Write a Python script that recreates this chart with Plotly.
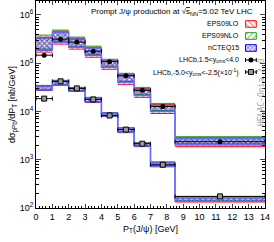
import plotly.graph_objects as go

# ---------------- data ----------------
edges = [0, 1, 2, 3, 4, 5, 6, 7, 8.5, 14]
centers = [0.5, 1.5, 2.5, 3.5, 4.5, 5.5, 6.5, 7.75, 11.25]

# forward rapidity 1.5<y<4.0  (nb/GeV)
fwd_lo_hi = [3.48e5, 4.64e5, 3.32e5, 2.15e5, 1.15e5, 5.90e4, 3.01e4, 1.40e4, 2.87e3]
fwd_lo_lo = [1.70e5, 2.49e5, 1.96e5, 1.33e5, 7.50e4, 3.65e4, 1.96e4, 9.09e3, 1.87e3]
fwd_nlo_hi = [3.83e5, 4.87e5, 3.48e5, 2.26e5, 1.21e5, 6.19e4, 3.16e4, 1.47e4, 3.01e3]
fwd_nlo_lo = [1.96e5, 2.87e5, 2.26e5, 1.54e5, 8.66e4, 4.22e4, 2.26e4, 1.05e4, 2.15e3]
fwd_nc_hi = [3.32e5, 4.43e5, 3.16e5, 2.05e5, 1.10e5, 5.62e4, 2.87e4, 1.33e4, 2.74e3]
fwd_nc_lo = [1.87e5, 2.74e5, 2.15e5, 1.47e5, 8.25e4, 4.02e4, 2.15e4, 1.00e4, 2.05e3]
lhcb_fwd = [1.47e5, 3.16e5, 2.74e5, 1.78e5, 1.08e5, 5.50e4, 2.74e4, 1.27e4, 2.37e3]
lhcb_fwd_err = [8e3, 1.6e4, 1.4e4, 9e3, 5e3, 2.8e3, 1.4e3, 7e2, 1.3e2]

# backward rapidity -5.0<y<-2.5 (x 1/10)
bwd_lo_hi = [3.40e4, 4.30e4, 3.08e4, 1.90e4, 9.30e3, 4.50e3, 2.20e3, 8.80e2, 1.65e2]
bwd_lo_lo = [2.74e4, 3.48e4, 2.61e4, 1.54e4, 7.87e3, 3.65e3, 1.87e3, 7.14e2, 1.33e2]
bwd_nlo_hi = [3.48e4, 4.43e4, 3.16e4, 1.96e4, 9.53e3, 4.64e3, 2.26e3, 9.09e2, 1.70e2]
bwd_nlo_lo = [2.87e4, 3.65e4, 2.74e4, 1.62e4, 8.10e3, 3.85e3, 1.96e3, 7.50e2, 1.40e2]
bwd_nc_hi = [3.36e4, 4.25e4, 3.05e4, 1.88e4, 9.20e3, 4.45e3, 2.18e3, 8.70e2, 1.63e2]
bwd_nc_lo = [2.80e4, 3.55e4, 2.68e4, 1.58e4, 8.00e3, 3.75e3, 1.92e3, 7.30e2, 1.37e2]
lhcb_bwd = [1.85e4, 4.22e4, 3.01e4, 1.78e4, 8.25e3, 4.22e3, 2.15e3, 7.87e2, 1.74e2]
lhcb_bwd_err = [1.0e3, 2.2e3, 1.5e3, 9e2, 4.5e2, 2.2e2, 1.2e2, 4.5e1, 1.0e1]

xticks = list(range(0, 15))
yticks = [1e2, 1e3, 1e4, 1e5, 1e6]
yticktext = ["10<sup>2</sup>", "10<sup>3</sup>", "10<sup>4</sup>", "10<sup>5</sup>", "10<sup>6</sup>"]

RED = "#ff1010"
GREEN = "#22a022"
BLUE = "#0000ff"
LBLUE = "#6a6aff"

styles = {
    "EPS09LO": dict(color=RED, shape="\\", size=4, solidity=0.35),
    "EPS09NLO": dict(color=GREEN, shape="/", size=4, solidity=0.35),
    "nCTEQ15": dict(color=BLUE, shape="x", size=3, solidity=0.55),
}

fig = go.Figure()


def band(hi, lo, name):
    st = styles[name]
    xs, ys = [], []
    for i in range(len(hi)):
        xs += [edges[i], edges[i + 1]]
        ys += [hi[i], hi[i]]
    for i in reversed(range(len(lo))):
        xs += [edges[i + 1], edges[i]]
        ys += [lo[i], lo[i]]
    fig.add_trace(go.Scatter(
        x=xs, y=ys, fill="toself", mode="lines", line=dict(width=0),
        fillcolor="rgba(0,0,0,0)",
        fillpattern=dict(shape=st["shape"], fgcolor=st["color"], bgcolor="rgba(0,0,0,0)",
                         size=st["size"], solidity=st["solidity"], fillmode="overlay"),
        showlegend=False, hoverinfo="skip"))
    sx, sy = [], []
    for arr in (hi, lo):
        for i in range(len(arr)):
            sx += [edges[i], edges[i + 1], None]
            sy += [arr[i], arr[i], None]
    fig.add_trace(go.Scatter(x=sx, y=sy, mode="lines", line=dict(color=st["color"], width=1),
                             showlegend=False, hoverinfo="skip"))
    if name == "nCTEQ15":
        for arr in (hi, lo):
            fig.add_trace(go.Scatter(x=edges, y=list(arr) + [arr[-1]], mode="lines",
                                     line=dict(color=LBLUE, width=1.4, shape="hv"),
                                     showlegend=False, hoverinfo="skip"))


for hi, lo, nm in [(fwd_lo_hi, fwd_lo_lo, "EPS09LO"), (fwd_nlo_hi, fwd_nlo_lo, "EPS09NLO"),
                   (fwd_nc_hi, fwd_nc_lo, "nCTEQ15"),
                   (bwd_lo_hi, bwd_lo_lo, "EPS09LO"), (bwd_nlo_hi, bwd_nlo_lo, "EPS09NLO"),
                   (bwd_nc_hi, bwd_nc_lo, "nCTEQ15")]:
    band(hi, lo, nm)

halfw = [(edges[i + 1] - edges[i]) / 2 for i in range(len(centers))]

fig.add_trace(go.Scatter(
    x=centers, y=lhcb_fwd, mode="markers",
    marker=dict(symbol="circle", size=5, color="black"),
    error_x=dict(type="data", array=halfw, color="black", thickness=1, width=2),
    error_y=dict(type="data", array=lhcb_fwd_err, color="black", thickness=1, width=0),
    showlegend=False))
fig.add_trace(go.Scatter(
    x=centers, y=lhcb_bwd, mode="markers",
    marker=dict(symbol="square", size=5, color="#9a9a9a", line=dict(color="black", width=1)),
    error_x=dict(type="data", array=halfw, color="black", thickness=1, width=2),
    error_y=dict(type="data", array=lhcb_bwd_err, color="black", thickness=1, width=0),
    showlegend=False))

# ---------------- custom legend (overlay axis in fractional coords) ----------------
leg_names = ["EPS09LO", "EPS09NLO", "nCTEQ15"]
leg_rows = [0.889, 0.831, 0.773, 0.715, 0.657]
leg_texts = ["EPS09LO", "EPS09NLO", "nCTEQ15",
             "LHCb,1.5&lt;y<sub>cms</sub>&lt;4.0",
             "LHCb,-5.0&lt;y<sub>cms</sub>&lt;-2.5(×10<sup>-1</sup>)"]
sx0, sx1, sh = 0.915, 0.962, 0.016
for nm, yr in zip(leg_names, leg_rows[:3]):
    st = styles[nm]
    fig.add_trace(go.Scatter(
        x=[sx0, sx1, sx1, sx0, sx0], y=[yr - sh, yr - sh, yr + sh, yr + sh, yr - sh],
        xaxis="x2", yaxis="y2", fill="toself", mode="lines",
        line=dict(color=st["color"], width=1), fillcolor="rgba(0,0,0,0)",
        fillpattern=dict(shape=st["shape"], fgcolor=st["color"], bgcolor="rgba(0,0,0,0)",
                         size=st["size"], solidity=st["solidity"], fillmode="overlay"),
        showlegend=False, hoverinfo="skip"))
xm = (sx0 + sx1) / 2
fig.add_trace(go.Scatter(
    x=[xm], y=[leg_rows[3]], xaxis="x2", yaxis="y2", mode="markers",
    marker=dict(symbol="circle", size=5, color="black"),
    error_x=dict(type="data", array=[(sx1 - sx0) / 2], color="black", thickness=1, width=2),
    showlegend=False, hoverinfo="skip"))
fig.add_trace(go.Scatter(
    x=[xm], y=[leg_rows[4]], xaxis="x2", yaxis="y2", mode="markers",
    marker=dict(symbol="square", size=5, color="#9a9a9a", line=dict(color="black", width=1)),
    error_x=dict(type="data", array=[(sx1 - sx0) / 2], color="black", thickness=1, width=2),
    showlegend=False, hoverinfo="skip"))

annotations = []
for t, yr in zip(leg_texts, leg_rows):
    annotations.append(dict(text=t, xref="paper", yref="paper", x=0.895, y=yr,
                            xanchor="right", yanchor="middle", showarrow=False,
                            font=dict(size=7, color="black")))
annotations.append(dict(text="Prompt J/ψ production at √<span style='text-decoration:overline'>s</span><sub>NN</sub>=5.02 TeV LHC",
                        xref="paper", yref="paper", x=0.594, y=0.945,
                        xanchor="center", yanchor="middle", showarrow=False,
                        font=dict(size=8, color="black")))
annotations.append(dict(text="HELAC-Onia 2.0", xref="paper", yref="paper", x=0.982, y=0.56,
                        xanchor="center", yanchor="middle", textangle=-90, showarrow=False,
                        font=dict(size=8, color="#a0a0a0", family="DejaVu Sans Mono")))

minor_y = [k * 10 ** e for e in range(2, 7) for k in range(2, 10)]

fig.update_layout(
    width=274, height=242, autosize=False,
    margin=dict(l=36, r=9, t=1, b=34, autoexpand=False),
    paper_bgcolor="white", plot_bgcolor="white",
    font=dict(family="Liberation Sans, Arial, sans-serif", size=9, color="black"),
    showlegend=False, hovermode=False,
    annotations=annotations,
    xaxis=dict(range=[0, 14], tickvals=xticks, ticks="inside", ticklen=4, tickwidth=1,
               showline=True, linecolor="black", linewidth=1, mirror="ticks", showgrid=False,
               zeroline=False, tickfont=dict(size=9), automargin=False,
               minor=dict(dtick=0.2, ticks="inside", ticklen=2, tickcolor="black", showgrid=False),
               title=dict(text="P<sub>T</sub>(J/ψ) [GeV]", font=dict(size=9), standoff=4)),
    yaxis=dict(type="log", range=[2, 6.29], tickvals=yticks, ticktext=yticktext,
               ticks="inside", ticklen=5, tickwidth=1, automargin=False,
               showline=True, linecolor="black", linewidth=1, mirror="ticks", showgrid=False,
               zeroline=False, tickfont=dict(size=9),
               minor=dict(tickvals=minor_y, ticks="inside", ticklen=3, tickcolor="black", showgrid=False),
               title=dict(text="dσ<sub>pPb</sub>/dP<sub>T</sub> [nb/GeV]", font=dict(size=9), standoff=2)),
    xaxis2=dict(range=[0, 1], overlaying="x", visible=False, fixedrange=True),
    yaxis2=dict(range=[0, 1], overlaying="y", visible=False, fixedrange=True),
)

fig.write_html("out.html", config={"responsive": False, "displayModeBar": False, "staticPlot": True},
               post_script="document.body.style.margin='0';document.body.style.padding='0';")
